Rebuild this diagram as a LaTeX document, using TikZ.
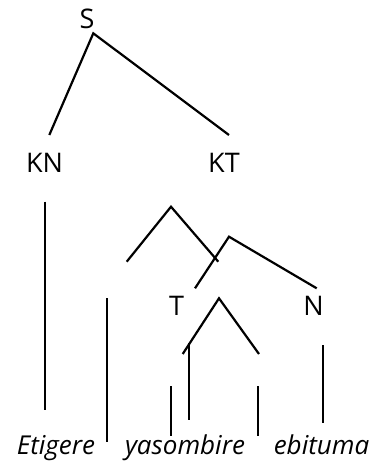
\documentclass[tikz,border=0pt]{standalone}
\usepackage{fontspec}
\setmainfont{Open Sans}
\begin{document}
\begin{tikzpicture}[x=1pt,y=-1pt,
  lbl/.style={inner sep=0pt,anchor=base,font=\fontsize{27}{32}\selectfont},
  word/.style={inner sep=0pt,anchor=base,font=\fontsize{26}{30}\selectfont\itshape},
  br/.style={line width=2.2pt,line cap=butt}]
\useasboundingbox (0,0) rectangle (373,466);
% labels
\node[lbl] (S) at (87,28) {S};
\node[lbl] (KN) at (44.5,172) {KN};
\node[lbl] (KT) at (224,172) {KT};
\node[lbl] (T) at (176.7,315) {T};
\node[lbl] (N) at (313.5,315) {N};
\node[word] (w1) at (56,454) {Etigere};
\node[word] (w2) at (185,454) {yasombire};
\node[word] (w3) at (321.5,454) {ebituma};
% coordinates
\coordinate (s0) at (93.3,33.3);
\coordinate (s1) at (49.3,135);
\coordinate (s2) at (229,135);
\coordinate (kn1) at (45,201.7);
\coordinate (kn2) at (45,410);
\coordinate (a1) at (171,206.7);
\coordinate (a1l) at (126.7,261.7);
\coordinate (a1r) at (218.3,261.7);
\coordinate (a2) at (229,236.7);
\coordinate (a2l) at (195,288.3);
\coordinate (a2r) at (316.7,288.3);
\coordinate (v1t) at (106.7,298.3);
\coordinate (v1b) at (106.7,441.7);
\coordinate (a3) at (219,298.3);
\coordinate (a3l) at (182.7,354);
\coordinate (a3r) at (259,354);
\coordinate (v2t) at (189,343.3);
\coordinate (v2b) at (189,420);
\coordinate (v3t) at (171,386);
\coordinate (v3b) at (171,436);
\coordinate (v4t) at (258.3,386);
\coordinate (v4b) at (258.3,436);
\coordinate (v5t) at (322.7,345);
\coordinate (v5b) at (322.7,422.7);
% branches
\draw[br] (s1) -- (s0) -- (s2);
\draw[br] (kn1) -- (kn2);
\draw[br] (a1l) -- (a1) -- (a1r);
\draw[br] (a2l) -- (a2) -- (a2r);
\draw[br] (v1t) -- (v1b);
\draw[br] (a3l) -- (a3) -- (a3r);
\draw[br] (v2t) -- (v2b);
\draw[br] (v3t) -- (v3b);
\draw[br] (v4t) -- (v4b);
\draw[br] (v5t) -- (v5b);
\end{tikzpicture}
\end{document}
